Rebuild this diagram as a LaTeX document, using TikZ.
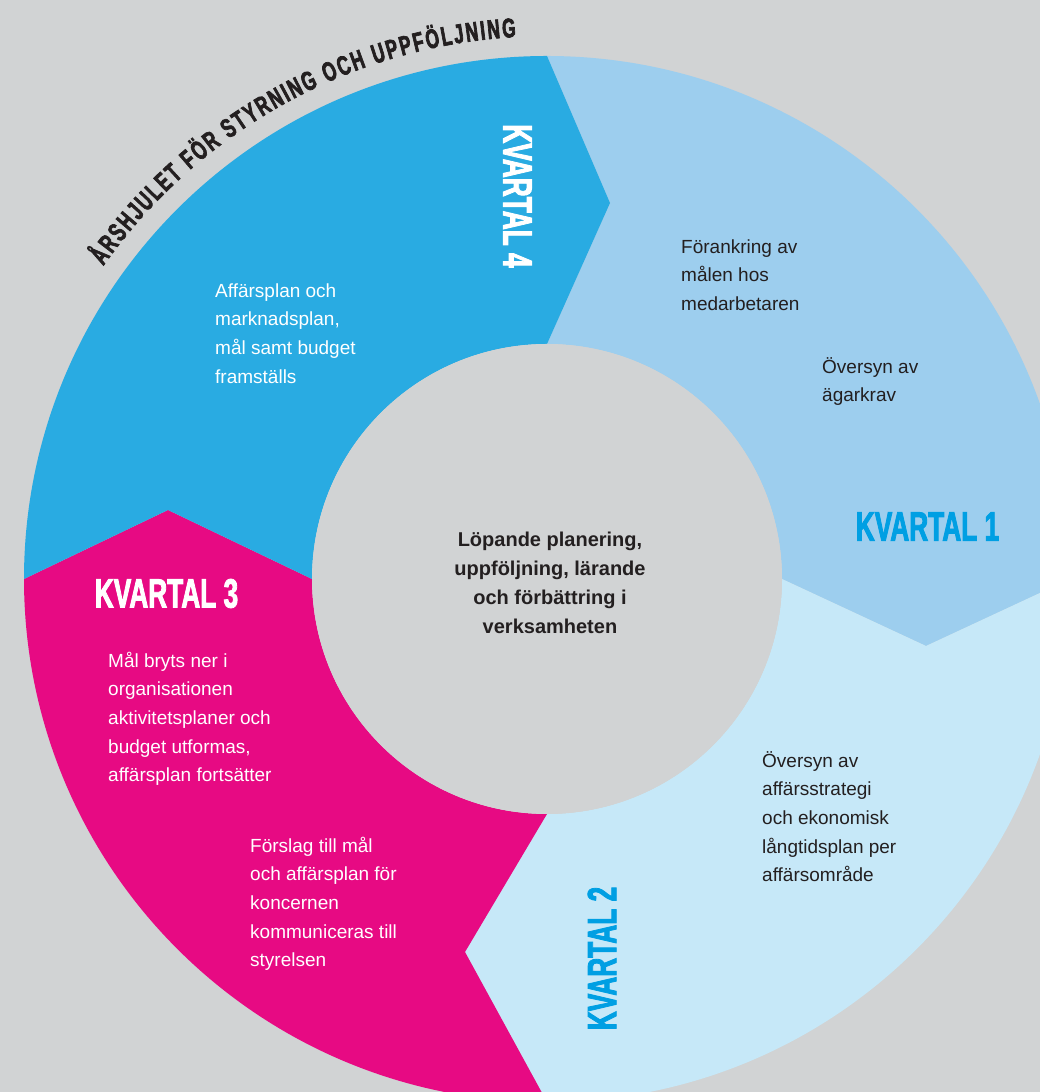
\documentclass[tikz,border=0pt]{standalone}
\usepackage{fontspec}
\setmainfont{Liberation Sans}
\newfontfamily\condfont{Liberation Sans}[FakeStretch=0.64, BoldFeatures={FakeBold=2}]
\newfontfamily\titlefont{Liberation Sans}[FakeStretch=0.64, BoldFeatures={FakeBold=2.5}]
\usetikzlibrary{calc,decorations.text}
\definecolor{bg}{HTML}{D1D3D4}
\definecolor{qfour}{HTML}{29ABE2}
\definecolor{qone}{HTML}{9DCEEE}
\definecolor{qtwo}{HTML}{C6E8F8}
\definecolor{qthree}{HTML}{E70A83}
\definecolor{kvblue}{HTML}{009FE3}
\definecolor{ink}{HTML}{231F20}
\newcommand{\firstln}{\rule{0pt}{18pt}}
\begin{document}
\begin{tikzpicture}[x=1pt,y=1pt,
  body/.style={align=left, inner sep=0pt, anchor=north west, font=\fontsize{19}{28.7}\selectfont},
  kv/.style={inner sep=0pt, anchor=center, font=\condfont\bfseries\fontsize{41}{41}\selectfont},
  mid/.style={align=center, inner sep=0pt, anchor=north, text=ink, font=\bfseries\fontsize{20}{29}\selectfont},
]
\useasboundingbox (0,0) rectangle (1040,1092);
\clip (0,0) rectangle (1040,1092);
\fill[bg] (0,0) rectangle (1040,1092);

\coordinate (C) at (547,513);
\coordinate (T90) at (610,889);
\coordinate (T0) at (926,446);
\coordinate (T270) at (465,140);
\coordinate (T180) at (168,582);

% Kvartal 1
\fill[qone] ($(C)+(90:523pt)$) arc[start angle=90, end angle=0, radius=523pt] -- (T0)
  -- ($(C)+(0:235pt)$) arc[start angle=0, end angle=90, radius=235pt] -- (T90) -- cycle;
% Kvartal 2
\fill[qtwo] ($(C)+(0:523pt)$) arc[start angle=0, end angle=-90, radius=523pt] -- (T270)
  -- ($(C)+(-90:235pt)$) arc[start angle=-90, end angle=0, radius=235pt] -- (T0) -- cycle;
% Kvartal 3
\fill[qthree] ($(C)+(-90:523pt)$) arc[start angle=-90, end angle=-180, radius=523pt] -- (T180)
  -- ($(C)+(180:235pt)$) arc[start angle=-180, end angle=-90, radius=235pt] -- (T270) -- cycle;
% Kvartal 4
\fill[qfour] ($(C)+(180:523pt)$) arc[start angle=180, end angle=90, radius=523pt] -- (T90)
  -- ($(C)+(90:235pt)$) arc[start angle=90, end angle=180, radius=235pt] -- (T180) -- cycle;

% centre
\fill[bg] (C) circle[radius=235pt];
\node[mid] (centre) at (550,564) {\firstln Löpande planering,\\uppföljning, lärande\\och förbättring i\\verksamheten};

% title
\path[decorate, decoration={text along path, text align=fit to path, text color=ink,
  text={|\titlefont\bfseries\fontsize{27}{27}\selectfont|ÅRSHJULET FÖR STYRNING OCH UPPFÖLJNING}}]
  ($(C)+(144.8:543pt)$) arc[start angle=144.8, end angle=93.3, radius=543pt];

% quarter labels
\node[kv, text=kvblue] (k1) at (927.5,565.5) {KVARTAL 1};
\node[kv, text=kvblue, rotate=90] (k2) at (602,133.5) {KVARTAL 2};
\node[kv, text=white] (k3) at (166.5,498.5) {KVARTAL 3};
\node[kv, text=white, rotate=-90] (k4) at (517.5,896) {KVARTAL 4};

% texts
\node[body, text=white] (t4) at (215,813) {\firstln Affärsplan och\\marknadsplan,\\mål samt budget\\framställs};
\node[body, text=ink] (t1a) at (681,857) {\firstln Förankring av\\målen hos\\medarbetaren};
\node[body, text=ink] (t1b) at (822,737) {\firstln Översyn av\\ägarkrav};
\node[body, text=ink] (t2) at (762,343) {\firstln Översyn av\\affärsstrategi\\och ekonomisk\\långtidsplan per\\affärsområde};
\node[body, text=white] (t3a) at (108,443) {\firstln Mål bryts ner i\\organisationen\\aktivitetsplaner och\\budget utformas,\\affärsplan fortsätter};
\node[body, text=white] (t3b) at (250,258) {\firstln Förslag till mål\\och affärsplan för\\koncernen\\kommuniceras till\\styrelsen};
\end{tikzpicture}
\end{document}
